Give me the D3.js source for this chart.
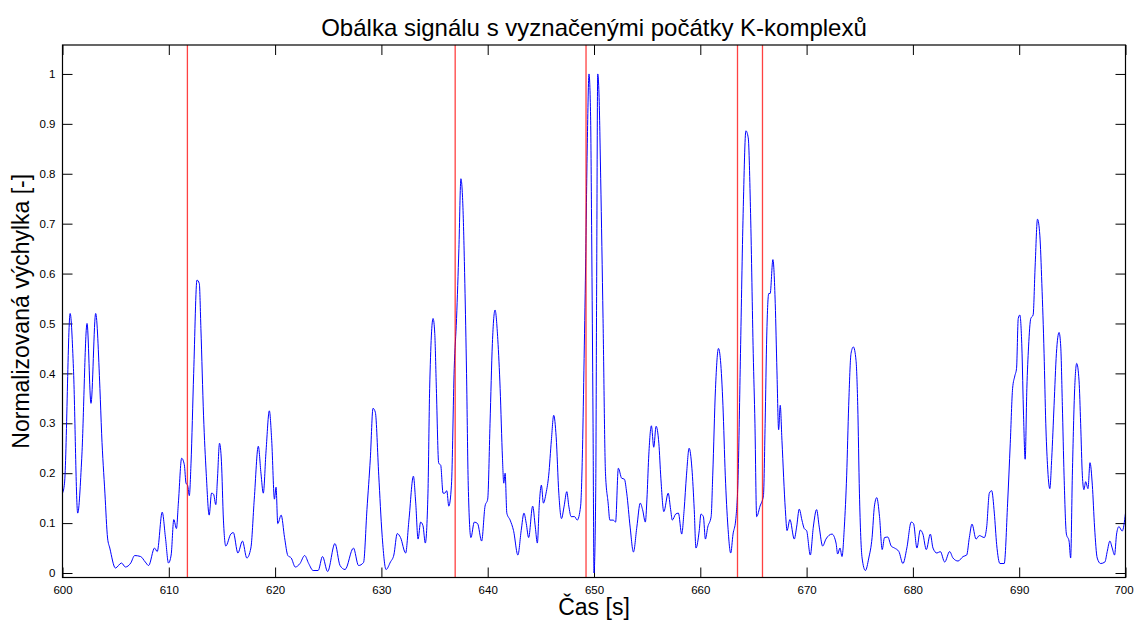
<!DOCTYPE html>
<html lang="cs">
<head>
<meta charset="utf-8">
<title>Obálka signálu</title>
<script src="https://cdn.jsdelivr.net/npm/d3@7/dist/d3.min.js"></script>
<style>
    body { margin: 0; background: #ffffff; }
    svg { display: block; font-family: "Liberation Sans", Arial, sans-serif; }
    .tick text { font-size: 11.5px; fill: #000; }
    .tick line { stroke: #000; }
</style>
</head>
<body>
<div id="chart"></div>
<script>
"use strict";

// time axis [s]
var times = [
    600.0, 600.19, 600.72, 601.03, 601.43, 601.81, 602.31, 602.68, 603.12, 603.52, 603.68, 603.99,
    604.24, 604.45, 604.98, 605.55, 605.92, 606.42, 606.79, 607.35, 607.79, 608.1, 608.66, 608.91,
    609.38, 609.69, 609.97, 610.22, 610.47, 610.72, 610.9, 611.21, 611.46, 611.62, 611.78, 611.93,
    612.09, 612.34, 612.65, 612.87, 613.02, 613.27, 613.52, 613.8, 614.02, 614.21, 614.42, 614.58,
    614.77, 614.95, 615.14, 615.36, 615.83, 616.07, 616.5,
    616.93, 617.34, 617.72, 618.04, 618.42, 618.67, 618.89, 619.15, 619.46, 619.68, 619.94, 620.09,
    620.25, 620.57, 620.89, 621.2, 621.52, 621.9, 622.34, 622.78, 623.16, 623.58, 624.05, 624.46,
    624.94, 625.63, 626.11, 626.58, 627.37, 627.85, 628.32, 628.64, 628.96, 629.21, 629.43, 629.75,
    630.06, 630.44, 630.85, 631.17, 631.49, 631.8, 632.28, 632.59, 633.01, 633.23, 633.45,
    633.69, 633.91, 634.13, 634.38, 634.54, 634.86, 635.02, 635.17, 635.39, 635.58, 635.8, 635.96,
    636.15, 636.34, 636.59, 636.85, 637.07, 637.29, 637.48, 637.67, 637.85, 638.01, 638.17, 638.42,
    638.74, 639.05, 639.43, 639.75, 640.0, 640.22, 640.44, 640.69, 640.95, 641.17, 641.39, 641.51,
    641.64, 641.8, 642.11, 642.43, 642.84, 643.15, 643.41, 643.63, 643.85, 644.23, 644.48, 644.67,
    644.86, 645.05, 645.24, 645.49, 645.74, 645.99, 646.21, 646.44, 646.69, 646.94, 647.19, 647.44,
    647.63, 647.85, 648.17, 648.42, 648.74, 648.9, 649.05, 649.21, 649.37, 649.53, 649.68, 649.78,
    649.91, 650.0, 650.16, 650.25, 650.35, 650.47, 650.63, 650.85,
    651.08, 651.33, 651.49, 651.81, 652.03, 652.29, 652.6, 652.86, 653.08, 653.4, 653.71, 654.03,
    654.35, 654.57, 654.83, 654.98, 655.14, 655.4, 655.62, 655.84, 656.1, 656.29, 656.57, 656.98,
    657.21, 657.37, 657.68, 657.94, 658.25, 658.48, 658.7, 658.95, 659.21, 659.43, 659.59, 659.9,
    660.06, 660.29, 660.48, 660.7, 661.02, 661.17, 661.43, 661.71, 661.9, 662.13, 662.35, 662.6,
    662.86, 663.08, 663.33, 663.56, 663.78, 664.03, 664.29, 664.51, 664.73, 664.98, 665.14, 665.3,
    665.62, 665.94, 666.1, 666.25, 666.44, 666.57, 666.83, 667.05, 667.21, 667.37, 667.52, 667.68,
    668.0, 668.16,
    668.43, 668.84, 669.06, 669.31, 669.56, 669.78, 670.0, 670.35, 670.63, 670.94, 671.19, 671.51,
    671.82, 672.39, 672.77, 672.92, 673.14, 673.33, 673.55, 673.77, 673.96, 674.18, 674.4, 674.65,
    674.81, 674.97, 675.22, 675.53, 675.85, 676.16, 676.38, 676.6, 676.86, 677.11, 677.33, 677.64,
    677.96, 678.27, 678.68, 679.06, 679.43, 679.84, 680.06, 680.38, 680.69, 680.94, 681.26, 681.64,
    681.89, 682.26, 682.58, 682.99, 683.46, 683.77, 684.25, 684.72,
    685.06, 685.31, 685.56, 685.94, 686.25, 686.72, 686.94, 687.19, 687.41, 687.66, 687.88, 688.19,
    688.59, 688.91, 689.16, 689.38, 689.59, 689.75, 689.91, 690.06, 690.25, 690.41, 690.56, 690.72,
    690.88, 691.09, 691.31, 691.5, 691.72, 691.94, 692.13, 692.34, 692.5, 692.66, 692.88, 693.06,
    693.28, 693.5, 693.75, 693.91, 694.06, 694.22, 694.44, 694.69, 694.84, 695.0, 695.22, 695.41,
    695.63, 695.78, 695.94, 696.09, 696.25, 696.47, 696.66, 696.88, 697.09, 697.34, 697.66, 698.06,
    698.28, 698.53, 698.75, 698.97, 699.16, 699.38, 699.69, 700.0
];

// normalised envelope [-]
var values = [
    0.16, 0.18, 0.52, 0.41, 0.12, 0.23, 0.50, 0.34, 0.52, 0.37, 0.28, 0.16,
    0.07, 0.05, 0.01, 0.02, 0.012, 0.02, 0.035, 0.033, 0.022, 0.015, 0.05, 0.043,
    0.122, 0.07, 0.02, 0.036, 0.107, 0.089, 0.14, 0.23, 0.217, 0.18, 0.175, 0.155,
    0.22, 0.40, 0.587, 0.58, 0.49, 0.315, 0.2, 0.116, 0.16, 0.158, 0.137, 0.19,
    0.26, 0.224, 0.106, 0.054, 0.078, 0.081, 0.04,
    0.064, 0.03, 0.05, 0.148, 0.254, 0.2, 0.16, 0.245, 0.325, 0.266, 0.148, 0.172,
    0.099, 0.116, 0.071, 0.035, 0.03, 0.012, 0.019, 0.035, 0.019, 0.005, 0.005, 0.033,
    0.003, 0.059, 0.015, 0.007, 0.05, 0.015, 0.021, 0.127, 0.23, 0.33, 0.322, 0.196,
    0.078, 0.007, 0.022, 0.036, 0.079, 0.071, 0.04, 0.106, 0.194, 0.14, 0.068,
    0.102, 0.095, 0.06, 0.16, 0.37, 0.51, 0.48, 0.37, 0.22, 0.216, 0.16, 0.16,
    0.165, 0.134, 0.176, 0.41, 0.51, 0.65, 0.79, 0.733, 0.58, 0.40, 0.176, 0.071,
    0.102, 0.099, 0.064, 0.134, 0.148, 0.30, 0.46, 0.527, 0.468, 0.37, 0.23, 0.18,
    0.2, 0.12, 0.106, 0.085, 0.036, 0.085, 0.12, 0.099, 0.071, 0.134, 0.092, 0.06,
    0.14, 0.176, 0.14, 0.16, 0.196, 0.266, 0.316, 0.273, 0.16, 0.109, 0.134, 0.163,
    0.134, 0.113, 0.113, 0.106, 0.134, 0.23, 0.405, 0.615, 0.86, 1.0, 0.914, 0.68,
    0.30, 0.0, 0.16, 0.58, 1.0, 0.96, 0.79, 0.51,
    0.2, 0.14, 0.106, 0.106, 0.102, 0.21, 0.19, 0.188, 0.16, 0.092, 0.042, 0.092,
    0.14, 0.127, 0.102, 0.148, 0.23, 0.295, 0.252, 0.294, 0.26, 0.19, 0.123, 0.16,
    0.127, 0.106, 0.118, 0.12, 0.078, 0.127, 0.196, 0.25, 0.21, 0.127, 0.05, 0.085,
    0.118, 0.113, 0.068, 0.092, 0.113, 0.196, 0.37, 0.45, 0.426, 0.336, 0.196, 0.092,
    0.04, 0.078, 0.106, 0.196, 0.44, 0.72, 0.886, 0.872, 0.72, 0.44, 0.30, 0.113,
    0.134, 0.155, 0.30, 0.475, 0.56, 0.56, 0.628, 0.54, 0.405, 0.287, 0.336, 0.266,
    0.127, 0.085,
    0.107, 0.068, 0.092, 0.128, 0.106, 0.089, 0.085, 0.036, 0.092, 0.127, 0.092, 0.054,
    0.068, 0.078, 0.06, 0.038, 0.05, 0.033, 0.092, 0.196, 0.336, 0.44, 0.453, 0.426,
    0.336, 0.16, 0.03, 0.005, 0.03, 0.071, 0.134, 0.151, 0.113, 0.047, 0.071, 0.072,
    0.054, 0.05, 0.043, 0.019, 0.05, 0.102, 0.099, 0.05, 0.086, 0.078, 0.047, 0.078,
    0.05, 0.04, 0.043, 0.022, 0.043, 0.03, 0.024, 0.033,
    0.036, 0.071, 0.098, 0.068, 0.075, 0.071, 0.092, 0.16, 0.165, 0.12, 0.057, 0.019,
    0.019, 0.14, 0.26, 0.37, 0.395, 0.41, 0.51, 0.517, 0.453, 0.315, 0.228, 0.37,
    0.453, 0.51, 0.517, 0.615, 0.709, 0.677, 0.58, 0.44, 0.30, 0.217, 0.169, 0.23,
    0.336, 0.44, 0.482, 0.453, 0.336, 0.196, 0.078, 0.064, 0.03, 0.196, 0.37, 0.42,
    0.385, 0.30, 0.196, 0.167, 0.183, 0.169, 0.221, 0.176, 0.092, 0.03, 0.019, 0.022,
    0.043, 0.064, 0.05, 0.036, 0.078, 0.093, 0.084, 0.12
];

// K-complex onsets [s]
var onsets = [611.75, 636.94, 649.25, 663.5, 665.85];

var xTicks = [600, 610, 620, 630, 640, 650, 660, 670, 680, 690, 700];
var yTicks = [0, 0.1, 0.2, 0.3, 0.4, 0.5, 0.6, 0.7, 0.8, 0.9, 1];

var svgW = 1134, svgH = 623;
var axL = 62.5, axR = 1125.5, axT = 45, axB = 577.5;

var svg = d3.select("#chart").append("svg")
    .attr("width", svgW)
    .attr("height", svgH);

var x = d3.scaleLinear().domain([600, 700]).range([axL, axR]);
var y = d3.scaleLinear().domain([-0.009, 1.058]).range([axB, axT]);

var fmt = function(d) { return String(d); };

// axes, ticks pointing inward like matlab
var xAxisG = svg.append("g")
    .attr("transform", "translate(0," + axB + ")")
    .call(d3.axisBottom(x).tickValues(xTicks).tickFormat(fmt).tickSize(-10).tickPadding(8));
svg.append("g")
    .attr("transform", "translate(0," + axT + ")")
    .call(d3.axisTop(x).tickValues(xTicks).tickFormat("").tickSize(-10));
svg.append("g")
    .attr("transform", "translate(" + axL + ",0)")
    .call(d3.axisLeft(y).tickValues(yTicks).tickFormat(fmt).tickSize(-10).tickPadding(7));
svg.append("g")
    .attr("transform", "translate(" + axR + ",0)")
    .call(d3.axisRight(y).tickValues(yTicks).tickFormat("").tickSize(-10));
svg.selectAll(".domain").remove();

// keep the last label inside the page
xAxisG.selectAll(".tick text")
    .filter(function(d) { return d === 700; })
    .attr("dx", "-2");

var pts = times.map(function(t, i) { return [t, values[i]]; });

svg.append("path")
    .datum(pts)
    .attr("fill", "none")
    .attr("stroke", "#0000ff")
    .attr("stroke-width", 1)
    .attr("d", d3.line()
        .curve(d3.curveMonotoneX)
        .x(function(d) { return x(d[0]); })
        .y(function(d) { return y(d[1]); }));

svg.selectAll(".onset")
    .data(onsets)
    .enter()
    .append("line")
    .attr("class", "onset")
    .attr("x1", function(d) { return x(d); })
    .attr("x2", function(d) { return x(d); })
    .attr("y1", axT)
    .attr("y2", axB)
    .attr("stroke", "#ff0000")
    .attr("stroke-opacity", 0.75)
    .attr("stroke-width", 1.3);

// box
svg.append("rect")
    .attr("x", axL)
    .attr("y", axT)
    .attr("width", axR - axL)
    .attr("height", axB - axT)
    .attr("fill", "none")
    .attr("stroke", "#000")
    .attr("stroke-width", 1.2);

svg.append("text")
    .attr("x", (axL + axR) / 2)
    .attr("y", 36)
    .attr("text-anchor", "middle")
    .style("font-size", "24px")
    .text("Obálka signálu s vyznačenými počátky K-komplexů");

svg.append("text")
    .attr("x", (axL + axR) / 2)
    .attr("y", 615)
    .attr("text-anchor", "middle")
    .style("font-size", "23px")
    .text("Čas [s]");

svg.append("text")
    .attr("transform", "translate(29," + ((axT + axB) / 2) + ") rotate(-90)")
    .attr("text-anchor", "middle")
    .style("font-size", "23px")
    .text("Normalizovaná výchylka [-]");
</script>
</body>
</html>
